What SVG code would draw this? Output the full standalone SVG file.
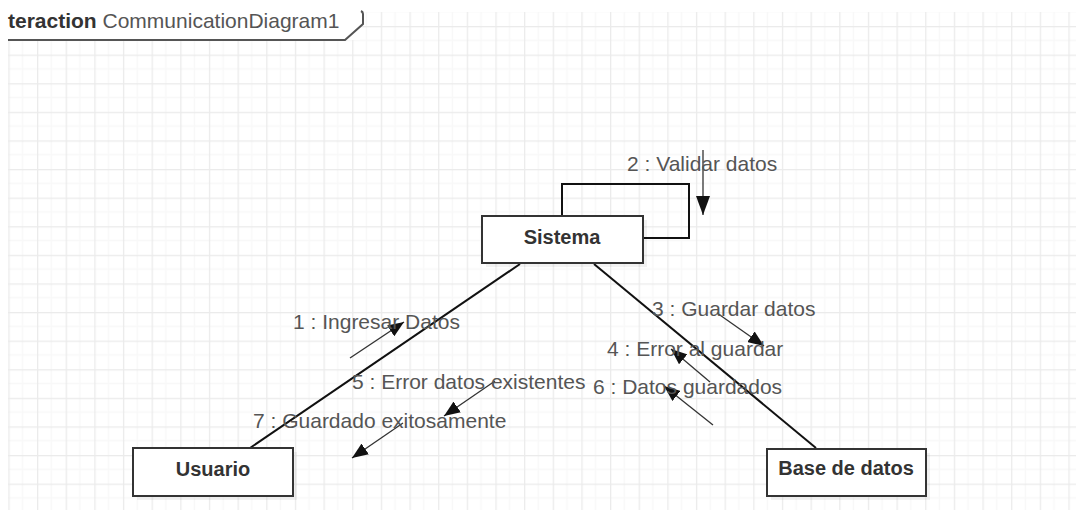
<svg xmlns="http://www.w3.org/2000/svg" width="1076" height="510" viewBox="0 0 1076 510">
  <defs>
    <pattern id="grid" patternUnits="userSpaceOnUse" x="37" y="26" width="28.65" height="28.6">
      <line x1="14.3" y1="0" x2="14.3" y2="28.6" stroke="#f8f8f8" stroke-width="1.5"/>
      <line x1="0" y1="14.3" x2="28.65" y2="14.3" stroke="#f8f8f8" stroke-width="1.5"/>
      <line x1="0.5" y1="0" x2="0.5" y2="28.6" stroke="#ebebeb" stroke-width="1.6"/>
      <line x1="0" y1="0.5" x2="28.65" y2="0.5" stroke="#ebebeb" stroke-width="1.6"/>
    </pattern>
    <marker id="head" viewBox="0 0 16 13" refX="16" refY="6.5" markerWidth="16" markerHeight="13" markerUnits="userSpaceOnUse" orient="auto">
      <path d="M0,0 L16,6.5 L0,13 Z" fill="#111"/>
    </marker>
    <marker id="headBig" viewBox="0 0 19 14" refX="19" refY="7" markerWidth="19" markerHeight="14" markerUnits="userSpaceOnUse" orient="auto">
      <path d="M0,0 L19,7 L0,14 Z" fill="#111"/>
    </marker>
  </defs>
  <style>
    .frame { fill: none; stroke: #555; stroke-width: 2; }
    .box { fill: #ffffff; stroke: #333; stroke-width: 2; }
    .shadow { fill: #000; opacity: 0.05; }
    .node-label { font-family: "Liberation Sans", Arial, sans-serif; font-size: 20px; font-weight: bold; fill: #333; text-anchor: middle; }
    .title { font-family: "Liberation Sans", Arial, sans-serif; font-size: 21px; fill: #555; }
    .link { stroke: #111; stroke-width: 2; fill: none; }
    .msg { stroke: #333; stroke-width: 1.3; fill: none; marker-end: url(#head); }
    .msg-label { font-family: "Liberation Sans", Arial, sans-serif; font-size: 21px; fill: #555; }
  </style>

  <!-- canvas -->
  <rect x="0" y="0" width="1076" height="510" fill="#ffffff"/>
  <rect x="8" y="12" width="1068" height="498" fill="url(#grid)"/>

  <!-- interaction frame header -->
  <g id="frame">
    <rect x="8" y="0" width="352" height="40" fill="#ffffff"/>
    <path class="frame" d="M8,40 L345,40 L363,24 L363,14 Q363,12 361,11"/>
    <text class="title" x="8" y="28"><tspan font-weight="bold" fill="#333">teraction</tspan> CommunicationDiagram1</text>
  </g>

  <!-- links between lifelines -->
  <g id="connectors">
    <path class="link" d="M520,264 L250,448"/>
    <path class="link" d="M594,264 L816,448"/>
    <path class="link" stroke-width="1.8" d="M562,216 L562,184 L689,184 L689,238 L643,238"/>
  </g>

  <!-- messages -->
  <g id="messages">
    <path class="msg" style="marker-end:url(#headBig)" d="M703,150 L703,215"/>
    <text class="msg-label" x="627" y="171">2 : Validar datos</text>

    <path class="msg" d="M350,358 L404,322"/>
    <text class="msg-label" x="293" y="329">1 : Ingresar Datos</text>

    <path class="msg" d="M495,381 L444,416"/>
    <text class="msg-label" x="352" y="389">5 : Error datos existentes</text>

    <path class="msg" d="M403,423 L352,458"/>
    <text class="msg-label" x="253" y="428">7 : Guardado exitosamente</text>

    <path class="msg" d="M717,313 L764,346"/>
    <text class="msg-label" x="652" y="316">3 : Guardar datos</text>

    <path class="msg" d="M710,382 L671,349"/>
    <text class="msg-label" x="607" y="356">4 : Error al guardar</text>

    <path class="msg" d="M713,425 L664,386"/>
    <text class="msg-label" x="593" y="394">6 : Datos guardados</text>
  </g>

  <!-- lifelines -->
  <g id="sistema">
    <rect class="shadow" x="486" y="220" width="161" height="47"/>
    <rect class="box" x="482" y="216" width="161" height="47"/>
    <text class="node-label" x="562" y="244">Sistema</text>
  </g>

  <g id="usuario">
    <rect class="shadow" x="137" y="452" width="160" height="48"/>
    <rect class="box" x="133" y="448" width="160" height="48"/>
    <text class="node-label" x="213" y="476">Usuario</text>
  </g>

  <g id="base-de-datos">
    <rect class="shadow" x="771" y="453" width="159" height="47"/>
    <rect class="box" x="767" y="449" width="159" height="47"/>
    <text class="node-label" x="846" y="475">Base de datos</text>
  </g>
</svg>
